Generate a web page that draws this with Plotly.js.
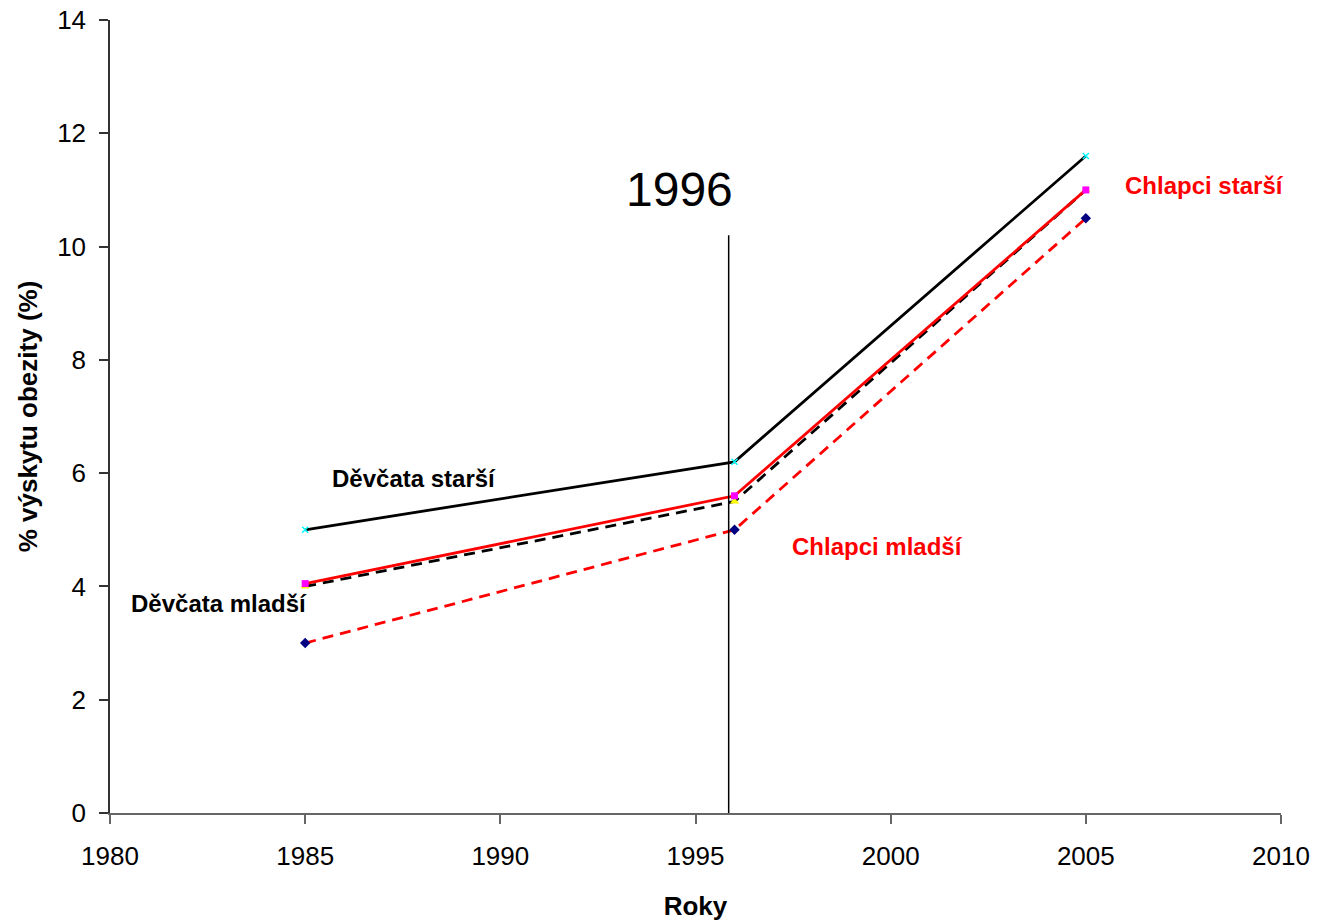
<!DOCTYPE html>
<html><head><meta charset="utf-8">
<script src="https://cdn.plot.ly/plotly-3.0.1.min.js"></script>
<style>body{margin:0;background:#fff}#c{width:1317px;height:921px}</style>
</head><body><div id="c"></div>
<script>
const years = [1985, 1996, 2005];
const devcataStarsi = [5.0, 6.2, 11.6];
const chlapciStarsi = [4.05, 5.6, 11.0];
const devcataMladsi = [4.0, 5.5, 11.0];
const chlapciMladsi = [3.0, 5.0, 10.5];
const markerYear = 1995.85;
const markerTop = 10.2;

const traces = [
  {x: years, y: devcataStarsi, name: 'Děvčata starší', mode: 'lines+markers',
   line: {color: '#000000', width: 2.8}, marker: {symbol: 'x-thin', size: 6, color: '#00ffff', line: {color: '#00ffff', width: 1.5}}},
  {x: years, y: chlapciMladsi, name: 'Chlapci mladší', mode: 'lines+markers',
   line: {color: '#ff0000', width: 2.8, dash: '11px,7px'}, marker: {symbol: 'diamond', size: 8, color: '#000080'}},
  {x: years, y: devcataMladsi, name: 'Děvčata mladší', mode: 'lines+markers',
   line: {color: '#000000', width: 2.8, dash: '11px,7px'}, marker: {symbol: 'triangle-up', size: 8, color: '#ffff00'}},
  {x: years, y: chlapciStarsi, name: 'Chlapci starší', mode: 'lines+markers',
   line: {color: '#ff0000', width: 2.8}, marker: {symbol: 'square', size: 7, color: '#ff00ff'}}
];

const ann = (text, x, y, color, size, bold) => ({
  x, y, xref: 'x', yref: 'y', text: bold ? '<b>' + text + '</b>' : text, showarrow: false,
  font: {family: 'Arial, Liberation Sans', size, color}, xanchor: 'center', yanchor: 'middle'
});

const layout = {
  width: 1317, height: 921,
  margin: {l: 110, r: 36, t: 20, b: 108},
  paper_bgcolor: '#fff', plot_bgcolor: '#fff',
  showlegend: false,
  font: {family: 'Arial, Liberation Sans', size: 26, color: '#000'},
  xaxis: {range: [1980, 2010], tickvals: [1980,1985,1990,1995,2000,2005,2010], showgrid: false, zeroline: false,
    showline: true, linecolor: '#666', linewidth: 1.5, ticks: 'outside', ticklen: 9, tickcolor: '#666', tickwidth: 1.5,
    ticklabelstandoff: 10,
    tickfont: {size: 26}, title: {text: '<b>Roky</b>', font: {size: 26}, standoff: 27}},
  yaxis: {range: [0, 14], tickvals: [0,2,4,6,8,10,12,14], showgrid: false, zeroline: false,
    showline: true, linecolor: '#333', linewidth: 1.5, ticks: 'outside', ticklen: 9, tickcolor: '#333', tickwidth: 1.5,
    ticklabelstandoff: 8,
    tickfont: {size: 26}, title: {text: '<b>% výskytu obezity (%)</b>', font: {size: 26}, standoff: 12}},
  shapes: [{type: 'line', xref: 'x', yref: 'y', x0: markerYear, x1: markerYear, y0: 0, y1: markerTop,
    line: {color: '#000', width: 1.5}}],
  annotations: [
    ann('1996', 1994.6, 11.0, '#000', 48, false),
    ann('Děvčata starší', 1987.8, 5.9, '#000', 24, true),
    ann('Děvčata mladší', 1982.8, 3.69, '#000', 24, true),
    ann('Chlapci mladší', 1999.65, 4.7, '#ff0000', 24, true),
    ann('Chlapci starší', 2008.05, 11.07, '#ff0000', 24, true)
  ]
};
Plotly.newPlot('c', traces, layout, {displayModeBar: false});
</script></body></html>
